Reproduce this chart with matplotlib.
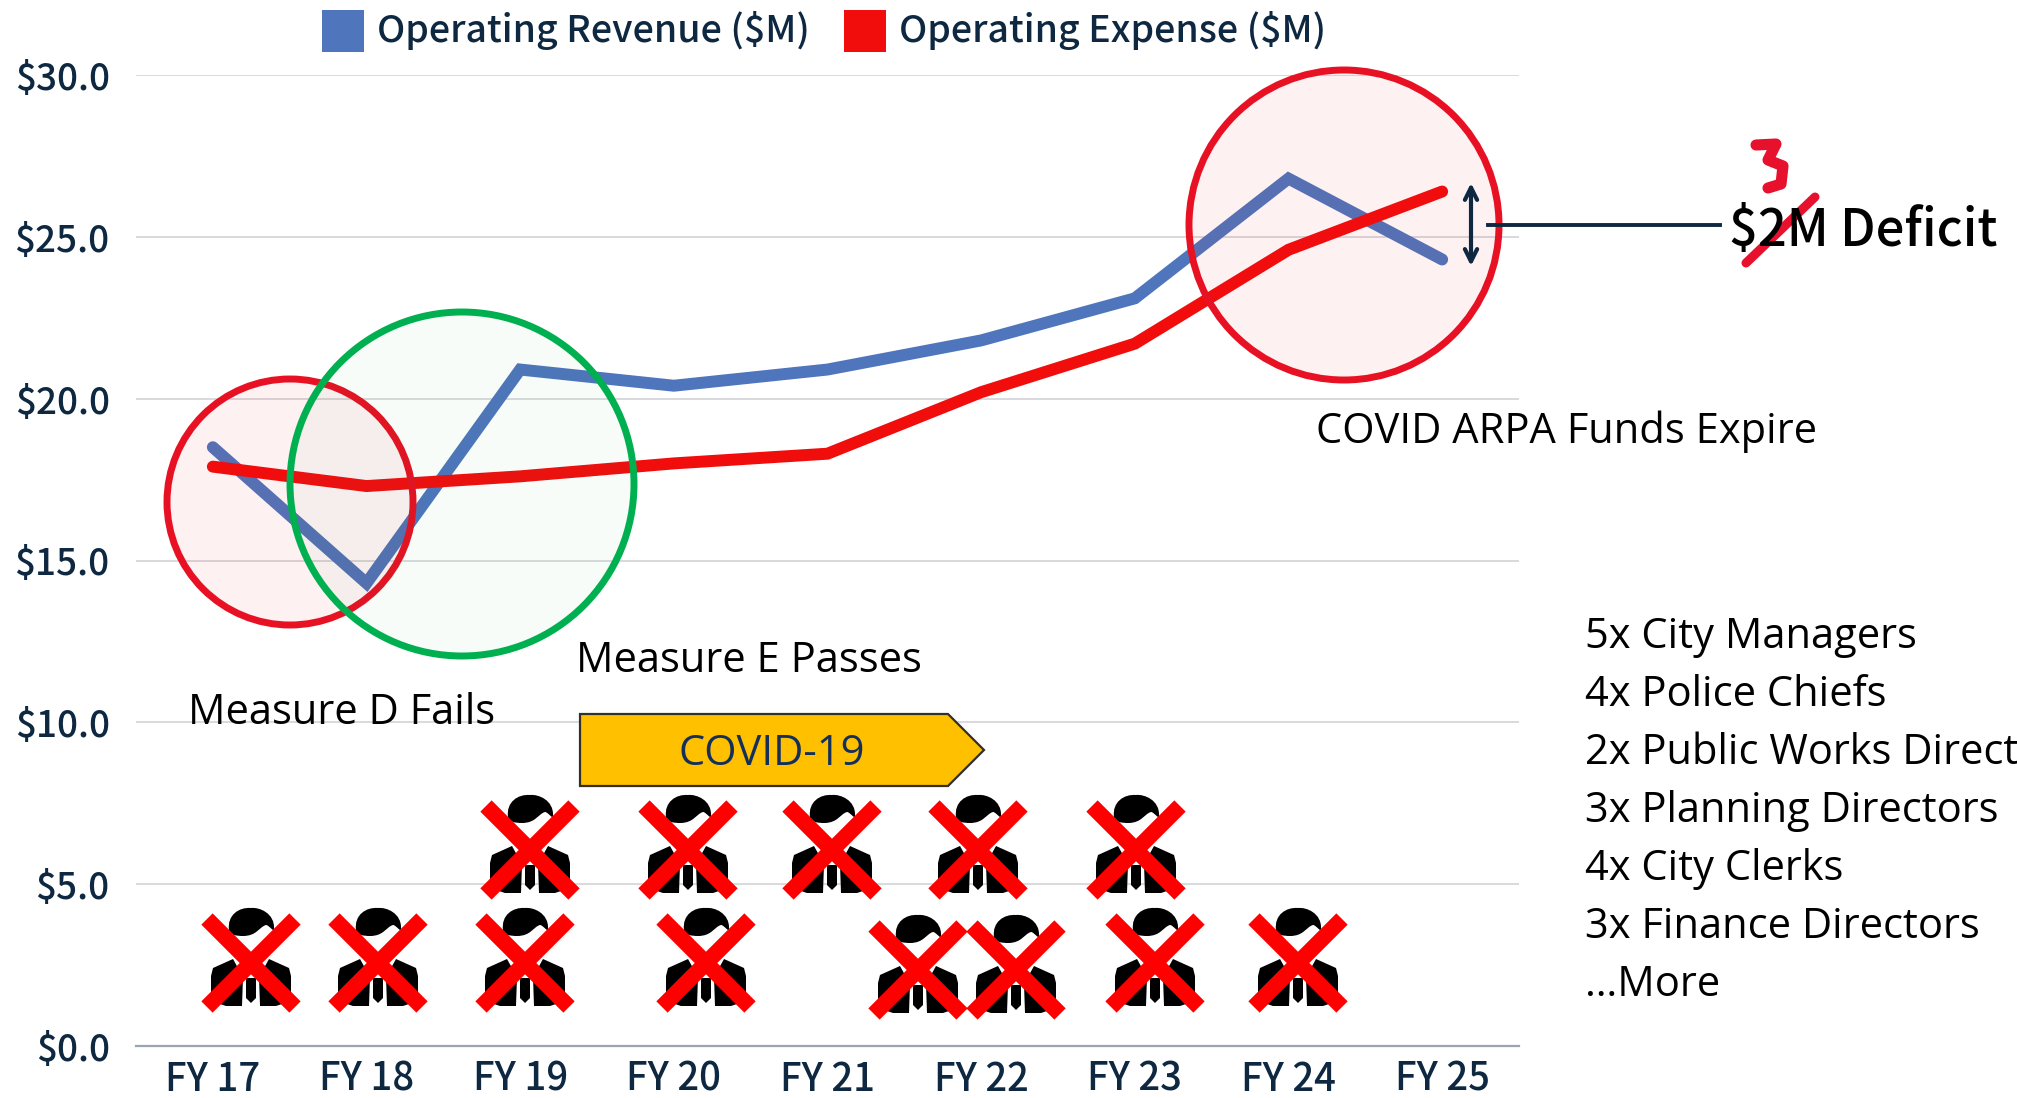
import matplotlib
matplotlib.use('Agg')
import matplotlib.pyplot as plt
from matplotlib.patches import Circle, Rectangle, Polygon, PathPatch
from matplotlib.path import Path

plt.rcParams['font.family'] = ['Noto Sans CJK JP', 'DejaVu Sans']

years = ['FY 17', 'FY 18', 'FY 19', 'FY 20', 'FY 21', 'FY 22', 'FY 23', 'FY 24', 'FY 25']
revenue = [18.5, 14.3, 20.9, 20.4, 20.9, 21.8, 23.1, 26.8, 24.3]
expense = [17.9, 17.3, 17.6, 18.0, 18.3, 20.2, 21.7, 24.6, 26.4]
y_ticks = [0, 5, 10, 15, 20, 25, 30]

# who left, one x per person: position in picture pixels
departures = [(251, 963), (378, 963), (525, 963), (706, 963), (918, 970), (1016, 970),
              (1155, 963), (1298, 963), (530, 850), (688, 850), (832, 850), (978, 850), (1136, 850)]
roles = ['5x City Managers', '4x Police Chiefs', '2x Public Works Directors',
         '3x Planning Directors', '4x City Clerks', '3x Finance Directors', '…More']

NAVY = '#0E2841'
W, H = 2017, 1098
fig = plt.figure(figsize=(W / 100, H / 100), dpi=100)

ax = fig.add_axes([136 / W, 1 - 1046 / H, (1519 - 136) / W, (1046 - 75) / H])
ax.plot(years, revenue, color='#4F75BC', lw=8.6, solid_capstyle='round', solid_joinstyle='miter', zorder=3)
ax.plot(years, expense, color='#F20D0D', lw=8.6, solid_capstyle='round', solid_joinstyle='miter', zorder=4)
ax.set_xlim(-0.5, 8.5)
ax.set_ylim(0, 30)
ax.set_yticks(y_ticks)
ax.set_yticklabels([f'${v:.1f}' for v in y_ticks])
ax.grid(axis='y', color='#D9D9DE', lw=1.4)
ax.set_axisbelow(True)
for s in ['top', 'right', 'left']:
    ax.spines[s].set_visible(False)
ax.spines['bottom'].set_color('#9AA5B1')
ax.spines['bottom'].set_linewidth(1.6)
ax.tick_params(length=0)
ax.tick_params(axis='y', pad=19, labelsize=26.5, labelcolor=NAVY)
ax.tick_params(axis='x', pad=10, labelsize=27.5, labelcolor=NAVY)
for t in ax.get_xticklabels() + ax.get_yticklabels():
    t.set_fontweight('medium')

# overlay in picture pixels for the slide annotations
ov = fig.add_axes([0, 0, 1, 1])
ov.set_xlim(0, W)
ov.set_ylim(H, 0)
ov.axis('off')
ov.patch.set_alpha(0)

# legend
ov.add_patch(Rectangle((322, 10), 42, 42, fc='#4F75BC', ec='none'))
ov.text(377, 31, 'Operating Revenue ($M)', fontsize=27, fontweight='medium', color=NAVY, va='center')
ov.add_patch(Rectangle((844, 10), 42, 42, fc='#F20D0D', ec='none'))
ov.text(899, 31, 'Operating Expense ($M)', fontsize=27, fontweight='medium', color=NAVY, va='center')

# circles
for cx, cy, r, col, a in [(290, 502, 123, '#E81123', 0.055), (462, 484, 172, '#00B050', 0.03),
                          (1344, 225, 155, '#E81123', 0.055)]:
    ov.add_patch(Circle((cx, cy), r, fc=col, ec='none', alpha=a))
    ov.add_patch(Circle((cx, cy), r, fc='none', ec=col, lw=5))

# labels
body = dict(family=['Open Sans', 'DejaVu Sans'], fontsize=30, color='black', va='center')
ov.text(188, 713, 'Measure D Fails', **body)
ov.text(576, 661, 'Measure E Passes', **body)
ov.text(1316, 432, 'COVID ARPA Funds Expire', **body)
for i, role in enumerate(roles):
    ov.text(1585, 637 + i * 58, role, **body)

# covid arrow
ov.add_patch(Polygon([(580, 714), (948, 714), (984, 750), (948, 786), (580, 786)],
                     fc='#FFC000', ec='#33302A', lw=1.6))
ov.text(772, 754, 'COVID-19', family=['Open Sans', 'DejaVu Sans'], fontsize=30, color='#14305A',
        ha='center', va='center')

# deficit marker
ov.annotate('', xy=(1471, 183), xytext=(1471, 266),
            arrowprops=dict(arrowstyle='<->', color=NAVY, lw=3, mutation_scale=22, shrinkA=0, shrinkB=0))
ov.plot([1488, 1720], [225, 225], color=NAVY, lw=2.8)
ov.text(1729, 231, '$2M Deficit', fontsize=36.5, fontweight='medium', color='black', va='center')
ov.plot([1746, 1815], [263, 197], color='#E8112D', lw=6.5, solid_capstyle='round')
ov.plot([1756, 1776, 1768, 1783, 1781, 1768], [145, 144, 160, 166, 184, 188],
        color='#E8112D', lw=8, solid_capstyle='round', solid_joinstyle='round')

# people, relative to the centre of the cross
hair = Path([(-22, -33),
             (-24, -48), (-12, -56), (0, -55),
             (8, -56), (24, -50), (23, -34),
             (23, -30), (18, -38), (15, -38),
             (8, -36), (6, -27), (-8, -27),
             (-14, -27), (-22, -28), (-22, -33)],
            [Path.MOVETO] + [Path.CURVE4] * 15)
left = [(-40, 13), (-38, 5), (-18, -4), (-8, 14), (-9, 43), (-25, 43), (-40, 38)]
right = [(-x, y) for x, y in left]
tie = [(-5, 15), (5, 15), (5, 35), (0, 40), (-5, 35)]

for cx, cy in departures:
    hp = Path(hair.vertices + (cx, cy), hair.codes)
    ov.add_patch(PathPatch(hp, fc='black', ec='none', zorder=5))
    for shape in [left, right, tie]:
        ov.add_patch(Polygon([(cx + x, cy + y) for x, y in shape], fc='black', ec='none', zorder=5))
    ov.plot([cx - 44, cx + 44], [cy - 44, cy + 44], color='#FF0000', lw=11.5, solid_capstyle='butt', zorder=6)
    ov.plot([cx - 44, cx + 44], [cy + 44, cy - 44], color='#FF0000', lw=11.5, solid_capstyle='butt', zorder=6)

fig.savefig('out.png', dpi=100)
